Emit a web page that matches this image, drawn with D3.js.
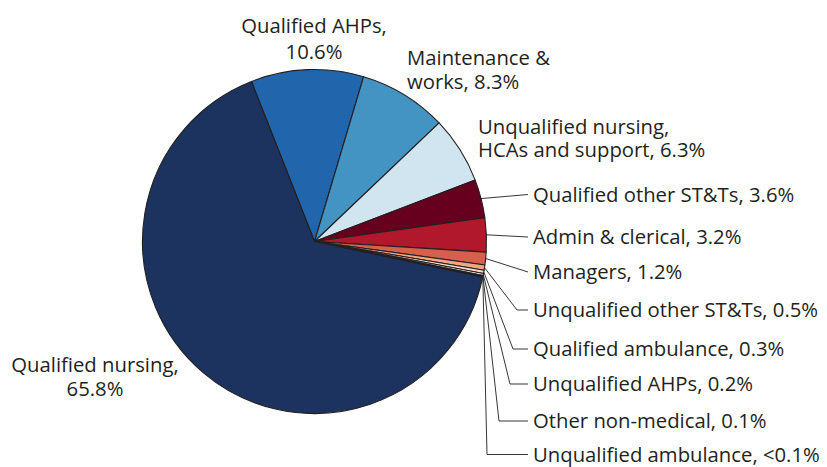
<!DOCTYPE html>
<html>
<head>
<meta charset="utf-8">
<script src="https://cdn.jsdelivr.net/npm/d3@7"></script>
<style>
  html, body { margin: 0; padding: 0; background: #fff; }
  svg text { font-family: "Open Sans", "Noto Sans", sans-serif; fill: #231f20; }
</style>
</head>
<body>
<svg id="chart" width="827" height="467"></svg>
<script>
// Staff groups, clockwise from the top-left edge of the largest slice
const categories = [
  "Qualified AHPs",
  "Maintenance & works",
  "Unqualified nursing, HCAs and support",
  "Qualified other ST&Ts",
  "Admin & clerical",
  "Managers",
  "Unqualified other ST&Ts",
  "Qualified ambulance",
  "Unqualified AHPs",
  "Other non-medical",
  "Unqualified ambulance",
  "Qualified nursing"
];
const values = [10.6, 8.3, 6.3, 3.6, 3.2, 1.2, 0.5, 0.3, 0.2, 0.1, 0.05, 65.8];
const valueLabels = ["10.6%", "8.3%", "6.3%", "3.6%", "3.2%", "1.2%", "0.5%", "0.3%", "0.2%", "0.1%", "<0.1%", "65.8%"];
const colors = ["#2166ac", "#4393c3", "#d1e5f0", "#67001f", "#b2182b", "#d6604d",
                "#f4a582", "#fddbc7", "#f7f7f7", "#e8e8e8", "#d9d9d9", "#1b335e"];

const svg = d3.select("#chart");
const cx = 314.5, cy = 241.5, R = 172;
const startDeg = -21.5;

const pie = d3.pie()
  .sort(null)
  .value(d => d)
  .startAngle(startDeg * Math.PI / 180)
  .endAngle(startDeg * Math.PI / 180 + 2 * Math.PI);
const arcs = pie(values);
const arc = d3.arc().innerRadius(0).outerRadius(R);

const g = svg.append("g").attr("transform", `translate(${cx},${cy})`);
g.selectAll("path")
  .data(arcs)
  .join("path")
  .attr("d", arc)
  .attr("fill", (d, i) => colors[i])
  .attr("stroke", "#231f20")
  .attr("stroke-width", 1.1)
  .attr("stroke-linejoin", "round");

// Point on the rim at a slice's middle angle
function rim(d) {
  const a = (d.startAngle + d.endAngle) / 2;
  return [cx + R * Math.sin(a), cy - R * Math.cos(a)];
}

const fontSize = 20.3;
const lineH = 24;

// Label layout: anchor, position of first baseline, words on first line,
// and optional leader line (elbow point, end point)
const layout = [
  { anchor: "middle", x: 314, y: 33, brk: 2, lh: 26 },
  { anchor: "start", x: 407, y: 65, brk: 2 },
  { anchor: "start", x: 478, y: 134, brk: 2, lh: 23 },
  { anchor: "start", x: 533, y: 201.5, lead: [null, [528, 194.5]] },
  { anchor: "start", x: 533, y: 244, lead: [null, [528, 237]] },
  { anchor: "start", x: 533, y: 279, lead: [null, [528, 272]] },
  { anchor: "start", x: 533, y: 317, lead: [[517, 310], [528, 310]] },
  { anchor: "start", x: 533, y: 356, lead: [[513, 349], [528, 349]] },
  { anchor: "start", x: 533, y: 391, lead: [[510, 384], [528, 384]] },
  { anchor: "start", x: 533, y: 428, lead: [[499, 421], [528, 421]] },
  { anchor: "start", x: 533, y: 461.5, lead: [[487, 454.5], [528, 454.5]] },
  { anchor: "middle", x: 95, y: 372, brk: 2 }
];

arcs.forEach((d, i) => {
  const L = layout[i];
  const full = categories[i] + ", " + valueLabels[i];
  let lines = [full];
  if (L.brk) {
    const words = full.split(" ");
    lines = [words.slice(0, L.brk).join(" "), words.slice(L.brk).join(" ")];
  }
  const t = svg.append("text")
    .attr("x", L.x).attr("y", L.y)
    .attr("text-anchor", L.anchor)
    .attr("font-size", fontSize);
  lines.forEach((s, k) => {
    t.append("tspan").attr("x", L.x).attr("y", L.y + k * (L.lh || lineH)).text(s);
  });
  if (L.lead) {
    const pts = [rim(d)];
    if (L.lead[0]) pts.push(L.lead[0]);
    pts.push(L.lead[1]);
    svg.append("path")
      .attr("d", d3.line()(pts))
      .attr("fill", "none")
      .attr("stroke", "#231f20")
      .attr("stroke-width", 0.9);
  }
});
</script>
</body>
</html>
